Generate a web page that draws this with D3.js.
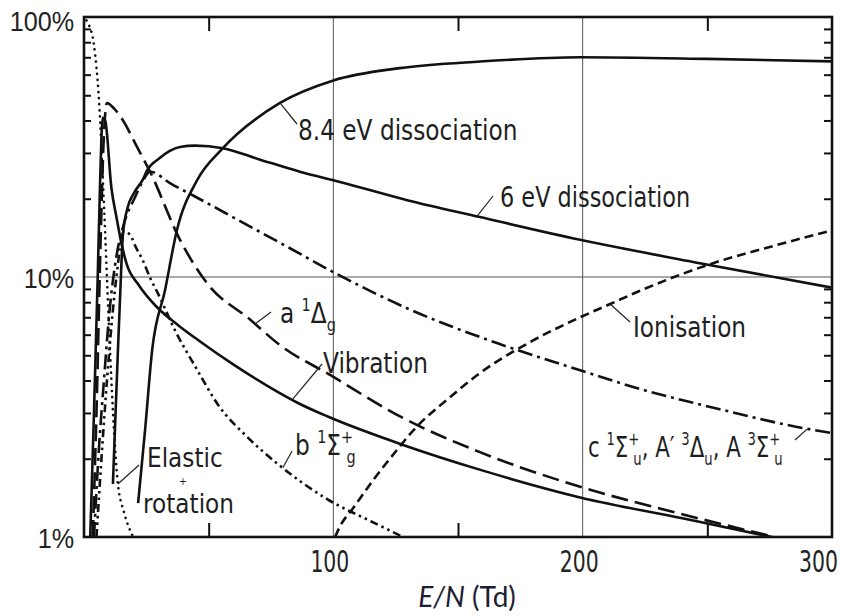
<!DOCTYPE html>
<head>
  <meta charset="utf-8">
  <script src="https://d3js.org/d3.v7.min.js"></script>
  <style>
    body { margin: 0; background: #fff; }
    svg { width: 841px; height: 616px; display: block; }
    .note { font-family: "DejaVu Sans", sans-serif; fill: #1e1e1e; }
    .curve { fill: none; stroke: #111; stroke-width: 2.6; stroke-linejoin: round; }
    .lead { stroke: #222; stroke-width: 1.2; }
  </style>
</head>
<body>
<svg></svg>
<script>
// axis values
var xTicks = [100, 200, 300];
var xMinor = [50, 150, 250];
var yTicks = [1, 10, 100];
var yTickLabels = ['1%', '10%', '100%'];
var yMinor = [2, 3, 4, 5, 6, 7, 8, 9, 20, 30, 40, 50, 60, 70, 80, 90];

// [E/N (Td), fraction of power (%)]
var elastic = [[1, 97], [2, 93], [4, 78], [6, 48], [8, 19], [10, 6.5], [12, 2.6], [13.6, 1.6], [16, 1.25], [19.7, 1.0]];
var vibration = [[2.5, 1], [4, 3], [5.5, 10], [6.5, 24], [7.5, 41], [8.5, 40], [11, 22], [13, 17], [15, 13.5], [17, 11.3], [22, 9.3], [29, 7.7], [38, 6.5], [46, 5.7], [60, 4.6], [78, 3.6], [86, 3.27], [98, 2.9], [128, 2.26], [160, 1.8], [199, 1.42], [240, 1.18], [276, 1.0]];
var singletA = [[3.5, 1], [5, 3], [6.5, 12], [7.8, 32], [9.2, 46.7], [12, 44.5], [15.6, 40.1], [21, 32], [26.5, 25.4], [38.5, 13.9], [49.3, 9.48], [66.6, 6.86], [78.6, 5.47], [98.7, 4.2], [127.9, 2.87], [158.8, 2.12], [199, 1.56], [239, 1.23], [277, 1.0]];
var singletB = [[5, 1], [7, 2], [10, 5], [13, 10], [16, 15], [18.5, 14.5], [21, 12.9], [23, 11.9], [27, 9.7], [29, 8.9], [37, 6.1], [45, 4.46], [54, 3.2], [65, 2.45], [78, 1.9], [98, 1.39], [115, 1.15], [128, 1.0]];
var tripletC = [[4, 1], [6, 2.2], [8, 4], [10, 7], [13, 12], [16, 16], [20.5, 20.3], [23.7, 23.5], [26.5, 25.4], [35, 22.8], [44.5, 20.4], [62.6, 16.4], [82.6, 12.9], [98.7, 10.6], [130.7, 7.5], [165.6, 5.57], [199, 4.38], [223, 3.71], [255, 3.1], [286, 2.65], [300, 2.51]];
var dissoc6 = [[11.6, 1.6], [12.6, 2.9], [13.6, 5.2], [14.6, 9], [15.6, 14.5], [17.5, 18.5], [20, 21], [23.7, 23.8], [25.3, 25.7], [30, 28.5], [38.5, 31.6], [44.5, 32], [55.7, 31.3], [70, 28.4], [86.6, 25.4], [102.7, 23.2], [130, 19.7], [158.8, 17], [199, 13.9], [247, 11.3], [300, 9.1]];
var dissoc84 = [[21.7, 1.35], [24.5, 2.58], [27.3, 5.2], [32.5, 8.9], [37.3, 15.2], [45.3, 23.5], [55.7, 31.3], [78.6, 46.7], [100, 57], [126.7, 63.6], [158.8, 67.4], [199, 70], [250, 69], [300, 67.5]];
var ionisation = [[100.7, 1.0], [102.7, 1.1], [107.9, 1.29], [116.7, 1.69], [125.5, 2.16], [131.9, 2.56], [146.8, 3.45], [158.8, 4.27], [178.9, 5.62], [199, 7.0], [211, 7.87], [223, 8.85], [252.3, 11.3], [276.3, 13.15], [300, 15.1]];

var svg = d3.select('svg');
var x = d3.scaleLinear().domain([0, 300]).range([84, 832]);
var y = d3.scaleLog().domain([1, 100]).range([537, 17]);

svg.append('clipPath').attr('id', 'plot')
  .append('rect')
  .attr('x', x(0)).attr('y', y(100))
  .attr('width', x(300) - x(0)).attr('height', y(1) - y(100));

// grid lines at 10%, 100 Td, 200 Td
svg.append('line')
  .attr('x1', x(0)).attr('x2', x(300))
  .attr('y1', y(10)).attr('y2', y(10))
  .attr('stroke', '#555').attr('stroke-width', 1);
svg.selectAll('line.vgrid')
  .data([100, 200]).enter().append('line')
  .classed('vgrid', true)
  .attr('x1', function(d) { return x(d); })
  .attr('x2', function(d) { return x(d); })
  .attr('y1', y(100)).attr('y2', y(1))
  .attr('stroke', '#555').attr('stroke-width', 1);

// minor ticks on all four sides, pointing inwards
function noDomain(g) { g.select('.domain').remove(); }
svg.append('g')
  .attr('transform', 'translate(0,' + y(100) + ')')
  .call(d3.axisTop(x).tickValues(xMinor).tickSize(-14).tickFormat(''))
  .call(noDomain);
svg.append('g')
  .attr('transform', 'translate(0,' + y(1) + ')')
  .call(d3.axisBottom(x).tickValues(xMinor).tickSize(-14).tickFormat(''))
  .call(noDomain);
svg.append('g')
  .attr('transform', 'translate(' + x(0) + ',0)')
  .call(d3.axisLeft(y).tickValues(yMinor).tickSize(-7).tickFormat(''))
  .call(noDomain);
svg.append('g')
  .attr('transform', 'translate(' + x(300) + ',0)')
  .call(d3.axisRight(y).tickValues(yMinor).tickSize(-8).tickFormat(''))
  .call(noDomain);
svg.selectAll('.tick line').attr('stroke', '#111').attr('stroke-width', 2);

// curves
var line = d3.line()
  .x(function(d) { return x(d[0]); })
  .y(function(d) { return y(d[1]); })
  .curve(d3.curveMonotoneX);

var curves = [
  {data: dissoc84, dash: null},
  {data: dissoc6, dash: null},
  {data: vibration, dash: null},
  {data: singletA, dash: '17,7'},
  {data: ionisation, dash: '9,5'},
  {data: tripletC, dash: '15,5,3,5'},
  {data: singletB, dash: '8,4,2.5,4,2.5,4'},
  {data: elastic, dash: '0.1,6', cap: 'round', w: 3}
];
svg.append('g').attr('clip-path', 'url(#plot)')
  .selectAll('path')
  .data(curves).enter().append('path')
  .attr('class', 'curve')
  .attr('d', function(d) { return line(d.data); })
  .attr('stroke-dasharray', function(d) { return d.dash; })
  .attr('stroke-linecap', function(d) { return d.cap || 'butt'; })
  .attr('stroke-width', function(d) { return d.w || 2.6; });

// frame
svg.append('rect')
  .attr('x', x(0)).attr('y', y(100))
  .attr('width', x(300) - x(0)).attr('height', y(1) - y(100))
  .attr('fill', 'none').attr('stroke', '#111').attr('stroke-width', 2.6);

// tick labels (narrow lettering, done with a horizontal scale)
var xAxis = svg.append('g')
  .attr('transform', 'translate(0,' + y(1) + ')')
  .call(d3.axisBottom(x).tickValues(xTicks).tickSize(0).tickPadding(14))
  .call(noDomain);
xAxis.selectAll('text')
  .attr('font-family', '"DejaVu Sans", sans-serif')
  .attr('font-size', 30).attr('fill', '#222')
  .attr('transform', function(d) {
    return 'translate(' + (d === 300 ? -14 : -4) + ',0) scale(0.68,1)';
  });

var yAxis = svg.append('g')
  .attr('transform', 'translate(' + x(0) + ',0)')
  .call(d3.axisLeft(y).tickValues(yTicks).tickSize(0).tickPadding(11)
    .tickFormat(function(d, i) { return yTickLabels[i]; }))
  .call(noDomain);
yAxis.selectAll('text')
  .attr('font-family', '"Liberation Sans", Arial, sans-serif')
  .attr('font-size', 28).attr('fill', '#222')
  .attr('dy', function(d) { return d === 100 ? '0.48em' : '0.36em'; })
  .attr('transform', 'scale(0.9,1)');

// x axis title
var title = svg.append('text')
  .attr('x', 467).attr('y', 607)
  .attr('text-anchor', 'middle')
  .attr('font-family', 'Lato, "Open Sans", sans-serif')
  .attr('font-size', 28).attr('fill', '#1c2033');
title.append('tspan').attr('font-style', 'italic').text('E/N');
title.append('tspan').text(' (Td)');

// annotation labels
var FS = 28;
var SX = 0.83;
function label(px, py, parts, sx) {
  var t = svg.append('text').attr('class', 'note')
    .attr('transform', 'translate(' + px + ',' + py + ') scale(' + (sx || SX) + ',1)')
    .style('font-size', FS + 'px');
  var cur = 0;
  parts.forEach(function(p) {
    var off = p.s === 'sup' ? -0.42 * FS : p.s === 'sub' ? 0.3 * FS : 0;
    var ts = t.append('tspan').text(p.t).attr('dy', off - cur);
    if (p.s) ts.style('font-size', (FS * 0.62) + 'px');
    if (p.back) ts.attr('dx', -p.back);
    cur = off;
  });
  return t;
}
function lead(t, v, px, py) {
  svg.append('line').attr('class', 'lead')
    .attr('x1', x(t)).attr('y1', y(v)).attr('x2', px).attr('y2', py);
}

label(298, 140, [{t: '8.4 eV dissociation'}]);
lead(78.6, 46.7, 297, 124);
label(500, 207, [{t: '6 eV dissociation'}], 0.8);
lead(157.6, 17.1, 493, 196);
label(633, 337, [{t: 'Ionisation'}]);
lead(211, 7.87, 630, 322);
label(323, 373, [{t: 'Vibration'}]);
lead(83.8, 3.4, 322, 364);

// three-line label: Elastic / + / rotation
var erSX = 0.86;
var er = svg.append('text').attr('class', 'note')
  .attr('transform', 'translate(143,0) scale(' + erSX + ',1)')
  .style('font-size', '27px');
er.append('tspan').attr('x', 4 / erSX).attr('y', 467).text('Elastic');
er.append('tspan').attr('x', 36 / erSX).attr('y', 485)
  .style('font-size', '11px').text('+');
er.append('tspan').attr('x', 0).attr('y', 513).text('rotation');
lead(13.6, 1.6, 139, 465);

label(280, 323, [{t: 'a '}, {t: '1', s: 'sup'}, {t: 'Δ'}, {t: 'g', s: 'sub'}]);
lead(68.6, 6.6, 271, 312);
label(295, 455, [{t: 'b '}, {t: '1', s: 'sup'}, {t: 'Σ'}, {t: '+', s: 'sup'}, {t: 'g', s: 'sub', back: 8}]);
lead(79.8, 1.85, 292, 451);
label(588, 457, [
  {t: 'c '}, {t: '1', s: 'sup'}, {t: 'Σ'}, {t: '+', s: 'sup'}, {t: 'u', s: 'sub', back: 8},
  {t: ', A′ '}, {t: '3', s: 'sup'}, {t: 'Δ'}, {t: 'u', s: 'sub'},
  {t: ', A '}, {t: '3', s: 'sup'}, {t: 'Σ'}, {t: '+', s: 'sup'}, {t: 'u', s: 'sub', back: 8}
], 0.76);
lead(290, 2.6, 795, 440);
</script>
</body>
